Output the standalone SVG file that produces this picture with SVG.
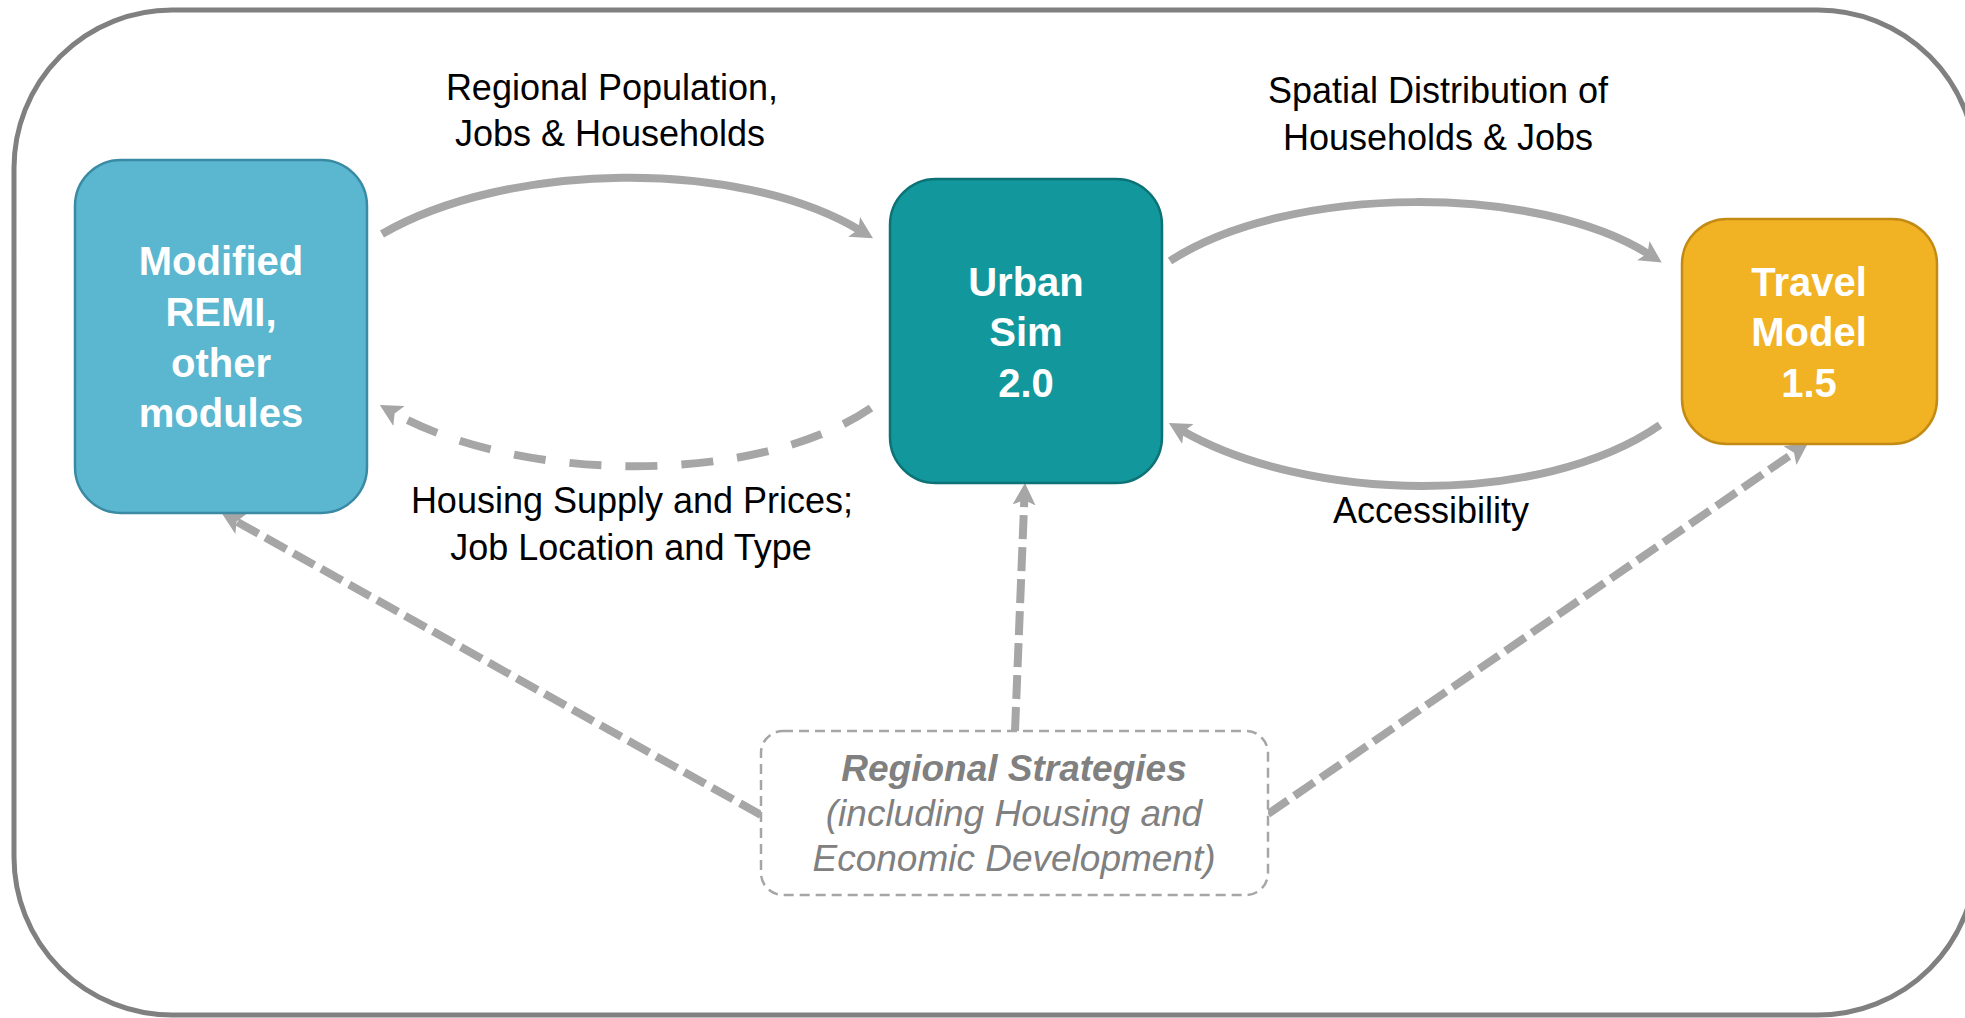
<svg xmlns="http://www.w3.org/2000/svg" width="1965" height="1018" viewBox="0 0 1965 1018">
  <defs>
    <marker id="ah" markerUnits="userSpaceOnUse" markerWidth="22" markerHeight="23" viewBox="0 0 22 23" refX="8" refY="11.5" orient="auto">
      <path d="M0,0 L22,11.5 L0,23 L5,11.5 Z" fill="#A6A6A6"/>
    </marker>
    <style>
      .lbl { font-family: "Liberation Sans", Arial, sans-serif; font-size: 36px; fill: #000; text-anchor: middle; }
      .node { font-family: "Liberation Sans", Arial, sans-serif; font-size: 40px; font-weight: bold; fill: #fff; text-anchor: middle; }
      .rs { font-family: "Liberation Sans", Arial, sans-serif; font-size: 37px; font-style: italic; fill: #808080; text-anchor: middle; }
      .solid { fill: none; stroke: #A6A6A6; stroke-width: 8; marker-end: url(#ah); }
      .dash-curve { fill: none; stroke: #A6A6A6; stroke-width: 8; stroke-dasharray: 32 24; marker-end: url(#ah); }
      .dash-line { fill: none; stroke: #A6A6A6; stroke-width: 8; stroke-dasharray: 24 8; marker-end: url(#ah); }
    </style>
  </defs>
  <rect x="0" y="0" width="1965" height="1018" fill="#fff"/>
  <rect id="frame" x="14" y="10" width="1962" height="1005" rx="158" ry="158" fill="none" stroke="#808080" stroke-width="5"/>

  <g id="connectors">
    <path class="solid" d="M382,234 C506,162 738,157 861,231"/>
    <path class="dash-curve" d="M871,408 C753,488 516,482 392,412"/>
    <path class="solid" d="M1170,261 C1290,183 1540,184 1650,255"/>
    <path class="solid" d="M1660,425 C1540,508 1307,503 1181,430"/>
    <path class="dash-line" d="M761,815 L234,520"/>
    <path class="dash-line" d="M1015,731 L1024.4,497"/>
    <path class="dash-line" d="M1268,814 L1796.5,451"/>
  </g>

  <g id="labels">
    <text class="lbl" x="612" y="100">Regional Population,</text>
    <text class="lbl" x="610" y="146">Jobs &amp; Households</text>
    <text class="lbl" x="1438" y="103">Spatial Distribution of</text>
    <text class="lbl" x="1438" y="150">Households &amp; Jobs</text>
    <text class="lbl" x="632" y="513">Housing Supply and Prices;</text>
    <text class="lbl" x="631" y="560">Job Location and Type</text>
    <text class="lbl" x="1431" y="523">Accessibility</text>
  </g>

  <g id="remi">
    <rect x="75" y="160" width="292" height="353" rx="46" ry="46" fill="#5BB6D0" stroke="#3A8AA3" stroke-width="2.5"/>
    <text class="node" x="221" y="275">Modified</text>
    <text class="node" x="221" y="326">REMI,</text>
    <text class="node" x="221" y="377">other</text>
    <text class="node" x="221" y="427">modules</text>
  </g>

  <g id="urbansim">
    <rect x="890" y="179" width="272" height="304" rx="46" ry="46" fill="#11979C" stroke="#0D7275" stroke-width="2.5"/>
    <text class="node" x="1026" y="296">Urban</text>
    <text class="node" x="1026" y="346">Sim</text>
    <text class="node" x="1026" y="397">2.0</text>
  </g>

  <g id="travel">
    <rect x="1682" y="219" width="255" height="225" rx="45" ry="45" fill="#F1B223" stroke="#C38B14" stroke-width="2.5"/>
    <text class="node" x="1809" y="296">Travel</text>
    <text class="node" x="1809" y="346">Model</text>
    <text class="node" x="1809" y="397">1.5</text>
  </g>

  <g id="strategies">
    <rect x="761" y="731" width="507" height="164" rx="22" ry="22" fill="#fff" stroke="#A6A6A6" stroke-width="2.5" stroke-dasharray="10 6"/>
    <text class="rs" x="1014" y="781" font-weight="bold">Regional Strategies</text>
    <text class="rs" x="1014" y="826">(including Housing and</text>
    <text class="rs" x="1014" y="871">Economic Development)</text>
  </g>
</svg>
